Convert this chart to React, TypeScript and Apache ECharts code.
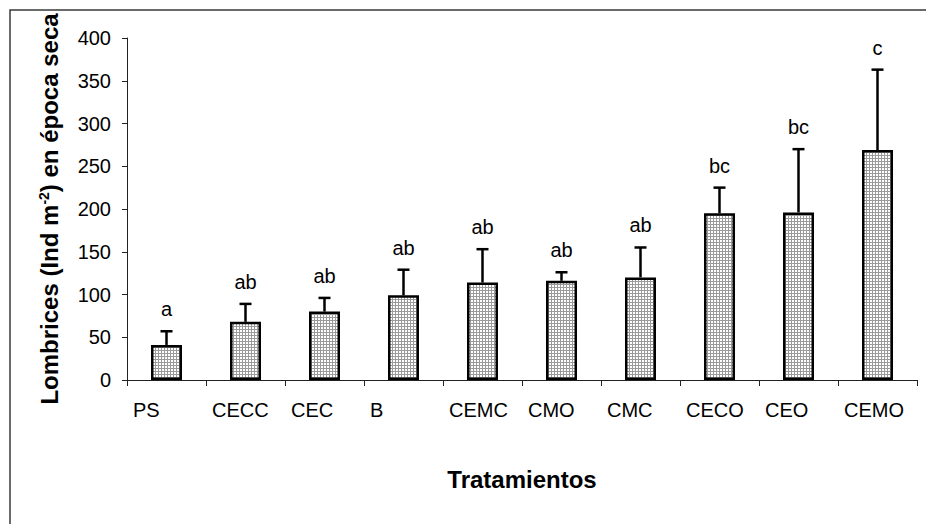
import React, { useEffect, useRef } from "react";
import * as echarts from "echarts";

const categories = ["PS", "CECC", "CEC", "B", "CEMC", "CMO", "CMC", "CECO", "CEO", "CEMO"];
const means = [41, 68, 80, 99, 114, 116, 120, 195, 196, 269];
const errors = [16, 21, 16, 30, 39, 10, 35, 30, 74, 94];
const letters = ["a", "ab", "ab", "ab", "ab", "ab", "ab", "bc", "bc", "c"];
const yTicks = { min: 0, max: 400, interval: 50 };

const FONT = '"Liberation Sans", Arial, sans-serif';

function makePattern(): HTMLCanvasElement {
  const c = document.createElement("canvas");
  c.width = 3;
  c.height = 3;
  const ctx = c.getContext("2d")!;
  ctx.fillStyle = "#ffffff";
  ctx.fillRect(0, 0, 3, 3);
  ctx.fillStyle = "#9a9a9a";
  ctx.fillRect(2, 0, 1, 3);
  ctx.fillRect(0, 2, 3, 1);
  return c;
}

export default function App() {
  const ref = useRef<HTMLDivElement>(null);
  useEffect(() => {
    document.body.style.margin = "0";
    const chart = echarts.init(ref.current!, null, { renderer: "svg" });
    const pattern = makePattern();
    chart.setOption({
      animation: false,
      backgroundColor: "#ffffff",
      textStyle: { fontFamily: FONT },
      grid: { left: 127, right: 9, top: 38, bottom: 144, containLabel: false },
      graphic: [
        {
          type: "rect",
          shape: { x: 10, y: 10, width: 960, height: 560 },
          style: { fill: "none", stroke: "#3a3a3a", lineWidth: 1.5 },
          silent: true,
        },
      ],
      xAxis: [
        {
          type: "category",
          data: categories,
          boundaryGap: true,
          axisLine: { lineStyle: { color: "#222", width: 1 } },
          axisTick: { show: true, length: 6, alignWithLabel: false, lineStyle: { color: "#222" } },
          axisLabel: { show: false },
          splitLine: { show: false },
          name: "Tratamientos",
          nameLocation: "middle",
          nameGap: 87,
          nameTextStyle: { fontSize: 24, fontWeight: "bold", color: "#000", fontFamily: FONT },
        },
        {
          type: "category",
          data: [...categories, ""],
          boundaryGap: false,
          position: "bottom",
          axisLine: { show: false },
          axisTick: { show: false },
          axisLabel: {
            interval: 0,
            align: "left",
            margin: 20,
            padding: [0, 0, 0, 6],
            fontSize: 20,
            color: "#000",
            fontFamily: FONT,
          },
          splitLine: { show: false },
        },
      ],
      yAxis: {
        type: "value",
        min: yTicks.min,
        max: yTicks.max,
        interval: yTicks.interval,
        axisLine: { show: true, lineStyle: { color: "#222", width: 1 } },
        axisTick: { show: true, length: 5, lineStyle: { color: "#222" } },
        axisLabel: { fontSize: 20, color: "#000", margin: 16, fontFamily: FONT },
        splitLine: { show: false },
        name: "{a|Lombrices (Ind m}{s|-2}{a|) en época seca}",
        nameLocation: "middle",
        nameGap: 66,
        nameRotate: 90,
        nameTextStyle: {
          fontSize: 24,
          fontWeight: "bold",
          color: "#000",
          fontFamily: FONT,
          rich: {
            a: { fontSize: 24, fontWeight: "bold", color: "#000", fontFamily: FONT },
            s: { fontSize: 14, fontWeight: "bold", color: "#000", fontFamily: FONT, verticalAlign: "top" },
          },
        },
      },
      series: [
        {
          type: "bar",
          xAxisIndex: 0,
          data: means,
          barWidth: 31,
          itemStyle: {
            color: { image: pattern, repeat: "repeat" },
            borderColor: "#000",
            borderWidth: 2.5,
          },
          z: 2,
        },
        {
          type: "custom",
          xAxisIndex: 0,
          data: categories.map((_, i) => [i, means[i], errors[i]]),
          encode: { x: 0, y: 1 },
          z: 3,
          renderItem: (params: any, api: any) => {
            const i = api.value(0);
            const m = api.value(1);
            const e = api.value(2);
            const top = api.coord([i, m]);
            const cap = api.coord([i, m + e]);
            const half = 6;
            return {
              type: "group",
              children: [
                {
                  type: "line",
                  shape: { x1: top[0], y1: top[1], x2: cap[0], y2: cap[1] },
                  style: { stroke: "#000", lineWidth: 2.5 },
                },
                {
                  type: "line",
                  shape: { x1: cap[0] - half, y1: cap[1], x2: cap[0] + half, y2: cap[1] },
                  style: { stroke: "#000", lineWidth: 2.5 },
                },
                {
                  type: "text",
                  x: cap[0],
                  y: cap[1] - 22,
                  style: {
                    text: letters[params.dataIndex],
                    fontSize: 20,
                    fontFamily: FONT,
                    fill: "#000",
                    align: "center",
                    verticalAlign: "middle",
                  },
                },
              ],
            };
          },
        },
      ],
    });
    return () => chart.dispose();
  }, []);
  return <div ref={ref} style={{ width: 926, height: 524 }} />;
}
